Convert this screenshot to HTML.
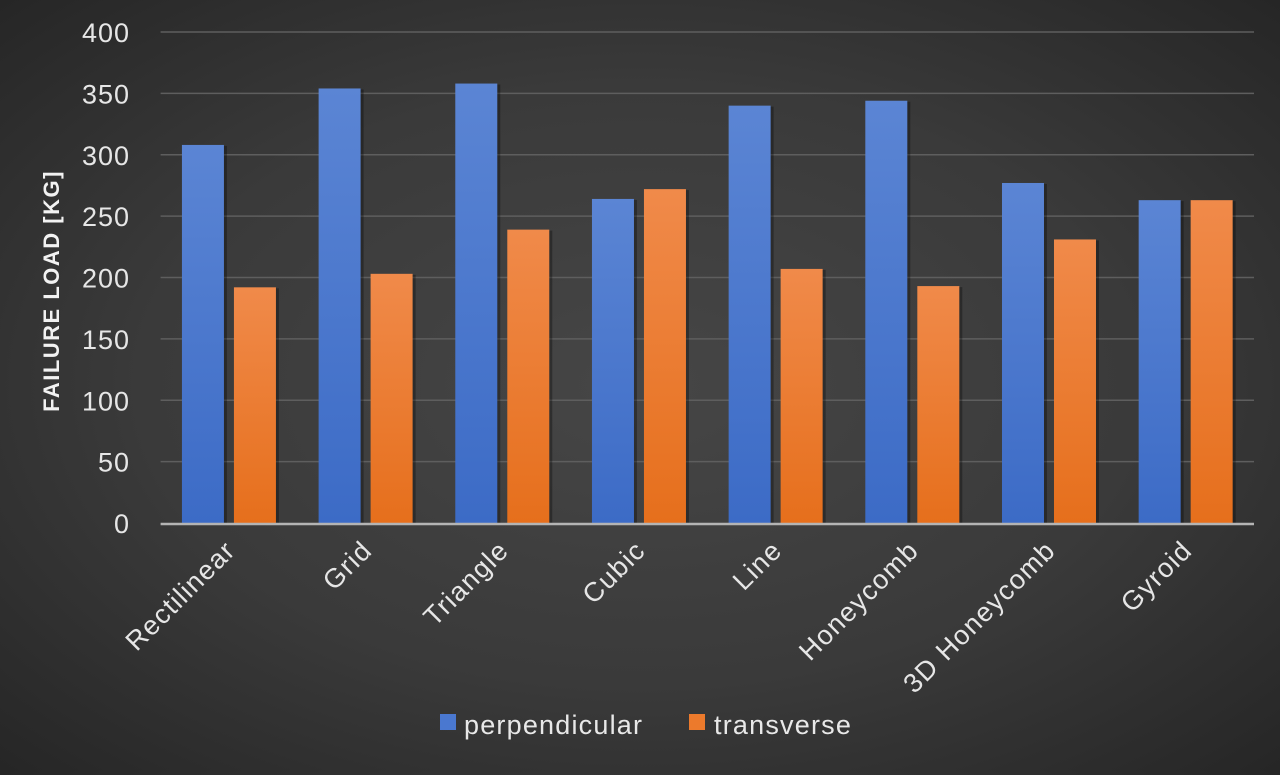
<!DOCTYPE html>
<html><head><meta charset="utf-8"><style>
html,body{margin:0;padding:0;}
body{width:1280px;height:770px;overflow:hidden;background:radial-gradient(ellipse at 50% 50%,#464646 0%,#3a3a3a 55%,#262626 100%);font-family:"Liberation Sans",sans-serif;}
svg text{font-family:"Liberation Sans",sans-serif;}
</style></head><body>
<svg id="chart" width="1280" height="770" xmlns="http://www.w3.org/2000/svg">
<defs>
<linearGradient id="gb" x1="0" y1="0" x2="0" y2="1"><stop offset="0" stop-color="#5b85d4"/><stop offset="1" stop-color="#3c6bc6"/></linearGradient>
<linearGradient id="go" x1="0" y1="0" x2="0" y2="1"><stop offset="0" stop-color="#f08a4a"/><stop offset="1" stop-color="#e66f1c"/></linearGradient>
</defs>
<g id="grid"></g><g id="bars"></g><g id="labels"></g>
<text transform="translate(59,291) rotate(-90)" text-anchor="middle" fill="#f2f2f2" font-size="22" font-weight="bold" letter-spacing="1.5">FAILURE LOAD [KG]</text>
<g>
<rect x="440" y="714" width="16" height="16" fill="#4a78d0"/>
<text x="464" y="734" fill="#e8e8e8" font-size="27" letter-spacing="1.2">perpendicular</text>
<rect x="689" y="714" width="16" height="16" fill="#ec7a2c"/>
<text x="714" y="734" fill="#e8e8e8" font-size="27" letter-spacing="1.2">transverse</text>
</g>
</svg>
<script>
const categories=["Rectilinear","Grid","Triangle","Cubic","Line","Honeycomb","3D Honeycomb","Gyroid"];
const perpendicular=[308,354,358,264,340,344,277,263];
const transverse=[192,203,239,272,207,193,231,263];
const yTicks=[0,50,100,150,200,250,300,350,400];
const NS="http://www.w3.org/2000/svg";
const x0=160.6,x1=1254,yTop=32,yBot=523,yMax=400;
const step=(x1-x0)/categories.length;
const y=v=>yBot-(v/yMax)*(yBot-yTop);
const xc=i=>x0+step*(i+0.5);
function mk(t,a){const e=document.createElementNS(NS,t);for(const k in a)e.setAttribute(k,a[k]);return e;}
const g=document.getElementById('grid'),b=document.getElementById('bars'),l=document.getElementById('labels');
yTicks.forEach(v=>{
 if(v>0){const ln=mk('line',{x1:x0,x2:x1,y1:y(v),y2:y(v),stroke:'#5e5e5e','stroke-width':1.5});
 
 g.appendChild(ln);}
 const t=mk('text',{x:130,y:y(v)+10,'text-anchor':'end',fill:'#e6e6e6','font-size':27,'letter-spacing':1});t.textContent=v;
 
 g.appendChild(t);
});
categories.forEach((c,i)=>{
 const bx=xc(i)-47;
 [[perpendicular[i],'url(#gb)',bx,'bar-perpendicular'],[transverse[i],'url(#go)',bx+52,'bar-transverse']].forEach(([v,f,x,n])=>{
  const sh=mk('rect',{x:x+3,y:y(v)+1,width:42,height:yBot-y(v)-1,fill:'#000',opacity:0.3});
  
  b.appendChild(sh);
  const r=mk('rect',{x:x,y:y(v),width:42,height:yBot-y(v),fill:f});
  
  b.appendChild(r);
 });
 const t=mk('text',{transform:`translate(${xc(i)+8},${552}) rotate(-45)`,'text-anchor':'end',fill:'#e6e6e6','font-size':27,'letter-spacing':1.3});
 t.textContent=c;
 
 l.appendChild(t);
});
const ax=mk('line',{x1:x0,x2:x1,y1:yBot+1,y2:yBot+1,stroke:'#b4b4b4','stroke-width':2.5});

b.appendChild(ax);
</script>
</body></html>
